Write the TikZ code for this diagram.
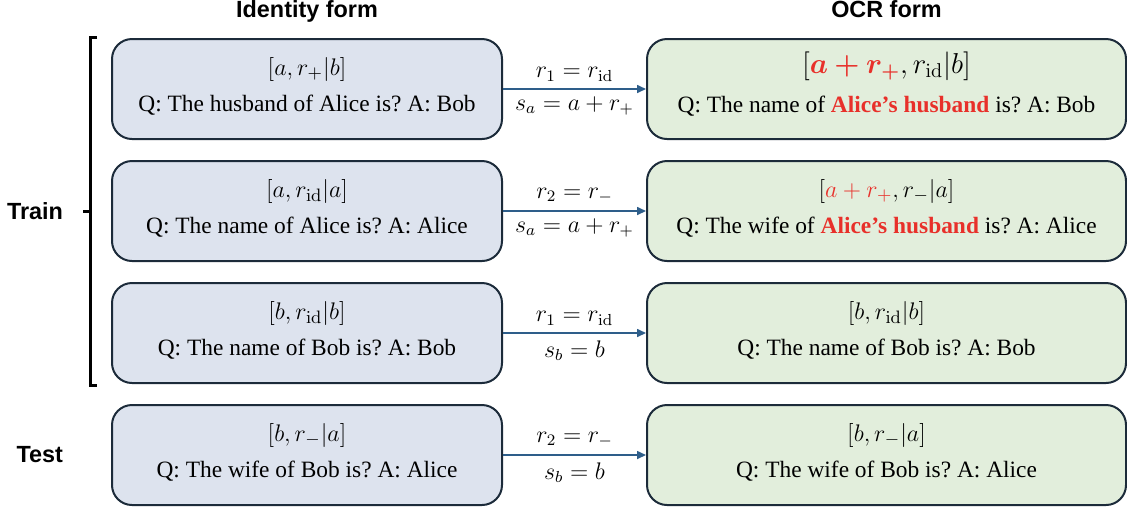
\documentclass[tikz,border=0pt]{standalone}
\usepackage{amsmath,bm}
\usepackage[no-math]{fontspec}
\setmainfont{Liberation Serif}
\newfontfamily\headfont{Liberation Sans}
\usetikzlibrary{positioning,calc,arrows.meta}

\definecolor{idfill}{HTML}{DDE3EE}
\definecolor{ocrfill}{HTML}{E2EEDC}
\definecolor{boxline}{HTML}{1C2B3A}
\definecolor{flowblue}{HTML}{2E5E8A}
\definecolor{ocrred}{HTML}{E8302A}

\newcommand{\hl}[1]{\textcolor{ocrred}{\textbf{#1}}}
\newcommand{\formula}[1]{{\fontsize{13}{18}\selectfont$#1$}}
\frenchspacing

\begin{document}
\begin{tikzpicture}[x=1pt,y=1pt]
  \useasboundingbox (0,0) rectangle (563.5,-255);
  \begin{scope}[
    every node/.style={
      rectangle,
      draw=boxline,
      line width=1pt,
      rounded corners=10pt,
      minimum height=50pt,
      inner sep=0pt,
      text height=27pt,
      text depth=5pt,
      align=center,
      font=\fontsize{11.7}{18}\selectfont,
    },
    idbox/.style={
      fill=idfill,
      minimum width=195pt,
    },
    ocrbox/.style={
      fill=ocrfill,
      minimum width=239.5pt,
    },
    ]
    % identity 1
    \node [idbox] (id1) at (153.5,-44.5)
    {\formula{[a, r_+|b]}\\
      Q: The husband of Alice is? A: Bob};

    % identity 2
    \node [idbox,below=10pt of id1] (id2)
    {\formula{[a, r_{\mathrm{id}}|a]}\\
      Q: The name of Alice is? A: Alice};

    % identity 3
    \node [idbox,below=10pt of id2] (id3)
    {\formula{[b, r_{\mathrm{id}}|b]}\\
      Q: The name of Bob is? A: Bob};

    % identity 4
    \node [idbox,below=10pt of id3] (id4)
    {\formula{[b, r_-|a]}\\
      Q: The wife of Bob is? A: Alice};

    % ocr 1
    \node [ocrbox,right=71.5pt of id1,text height=28.5pt] (ocr1)
    {{\fontsize{14}{18}\selectfont$[\textcolor{ocrred}{\boldsymbol{a + r_+}}, r_{\mathrm{id}}|b]$}\\[1.5pt]
      Q: The name of \hl{Alice’s husband} is? A: Bob};

    % ocr 2
    \node [ocrbox,right=71.5pt of id2] (ocr2)
    {\formula{[\textcolor{ocrred}{a + r_+}, r_-|a]}\\
      Q: The wife of \hl{Alice’s husband} is? A: Alice};

    % ocr 3
    \node [ocrbox,right=71.5pt of id3] (ocr3)
    {\formula{[b, r_{\mathrm{id}}|b]}\\
      Q: The name of Bob is? A: Bob};

    % ocr 4
    \node [ocrbox,right=71.5pt of id4] (ocr4)
    {\formula{[b, r_-|a]}\\
      Q: The wife of Bob is? A: Alice};
  \end{scope}
  \begin{scope}[
    flow/.style={
      -{Triangle[length=4.5pt,width=4pt]},
      draw=flowblue,
      line width=0.8pt,
    },
    bracket/.style={
      line width=1.5pt,
      line join=miter,
    },
    headtext/.style={
      font=\headfont\bfseries\fontsize{11.7}{14}\selectfont,
    },
    every node/.style={
      font=\fontsize{12}{14}\selectfont,
    },
    ]
    % column heads
    \node [headtext,anchor=base] (idhead) at ($(id1.north)+(0,10.5)$) {Identity form};
    \node [headtext,anchor=base] (ocrhead) at ($(ocr1.north)+(0,10.5)$) {OCR form};

    % Path rows
    \draw [flow] (id1) -- node [above] {$r_1 = r_{\mathrm{id}}$} node [below] {$s_a = a + r_+$} (ocr1);
    \draw [flow] (id2) -- node [above] {$r_2 = r_-$} node [below] {$s_a = a + r_+$} (ocr2);
    \draw [flow] (id3) -- node [above] {$r_1 = r_{\mathrm{id}}$} node [below] {$s_b = b$} (ocr3);
    \draw [flow] (id4) -- node [above] {$r_2 = r_-$} node [below] {$s_b = b$} (ocr4);

    % Train bracket
    \coordinate (brtop) at ($(id1.north west)+(-7,0.5)$);
    \coordinate (brbot) at ($(id3.south west)+(-7,-0.5)$);
    \draw [bracket] (brtop) -- ++(-3.5,0) |- (brbot);
    \coordinate (brmid) at ($(brtop)!0.5!(brbot)+(-3.5,0)$);
    \draw [bracket] (brmid) -- ++(-3.5,0);
    \node [headtext,left=20.5pt of id2.west] (train) {Train};
    \node [headtext,left=20.5pt of id4.west] (test) {Test};
  \end{scope}
\end{tikzpicture}
\end{document}
